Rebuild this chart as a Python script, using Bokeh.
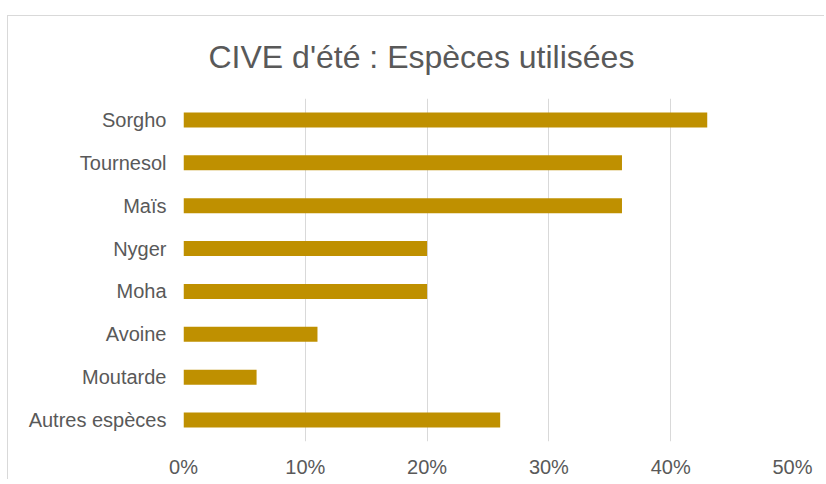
from bokeh.plotting import figure
from bokeh.models import FactorRange, Range1d, FixedTicker, PrintfTickFormatter, ColumnDataSource
from bokeh.embed import file_html
from bokeh.resources import INLINE

title_text = "CIVE d'été : Espèces utilisées"
categories = ["Sorgho", "Tournesol", "Maïs", "Nyger", "Moha", "Avoine", "Moutarde", "Autres espèces"]
values = [43, 36, 36, 20, 20, 11, 6, 26]
x_ticks = [0, 10, 20, 30, 40, 50]

bar_color = "#BF9000"
text_color = "#595959"
grid_color = "#D9D9D9"
font = "Liberation Sans"

source = ColumnDataSource(dict(cat=categories, val=values))

p = figure(
    y_range=FactorRange(*reversed(categories), range_padding=0),
    x_range=Range1d(0, 50),
    width=817, height=464,
    output_backend="svg", toolbar_location=None,
    min_border_left=175, min_border_right=33, min_border_top=82, min_border_bottom=39,
    margin=(15, 0, 0, 7),
    styles={"border-top": "1px solid #D9D9D9", "border-left": "1px solid #D9D9D9"},
)

p.hbar(y="cat", right="val", left=0, height=0.35, source=source,
       fill_color=bar_color, line_color=None)

p.title.text = title_text
p.title.align = "left"
p.title.offset = 25
p.title.text_font = font
p.title.text_font_size = "32px"
p.title.text_font_style = "normal"
p.title.text_color = text_color
p.title.vertical_align = "top"
p.title.standoff = 44

p.outline_line_color = None
p.ygrid.grid_line_color = None
p.xgrid.grid_line_color = grid_color
p.xgrid.grid_line_width = 1

p.xaxis.ticker = FixedTicker(ticks=x_ticks)
p.xaxis.formatter = PrintfTickFormatter(format="%d%%")
for ax in (p.xaxis[0], p.yaxis[0]):
    ax.axis_line_color = None
    ax.major_tick_line_color = None
    ax.minor_tick_line_color = None
    ax.major_tick_out = 0
    ax.major_tick_in = 0
    ax.minor_tick_out = 0
    ax.minor_tick_in = 0
    ax.major_label_text_font = font
    ax.major_label_text_font_size = "20px"
    ax.major_label_text_color = text_color
p.xaxis.major_label_standoff = 14
p.yaxis.major_label_standoff = 17

open("out.html", "w").write(file_html(p, INLINE))
